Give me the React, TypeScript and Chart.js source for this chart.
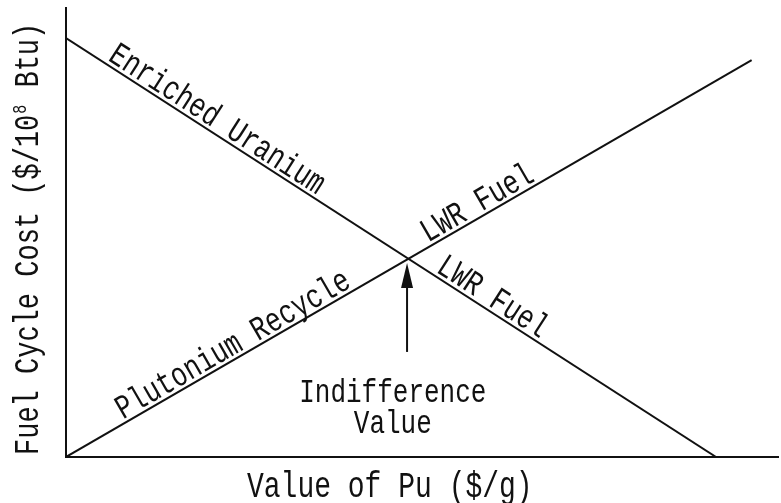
import React, { useEffect, useRef } from "react";
import { Chart, registerables } from "chart.js";
Chart.register(...registerables);

// ---- data ----
const xRange = [0, 100];
const yRange = [0, 100];
const enrichedX = [0, 91.3];
const enrichedY = [93.3, 0];
const plutoniumX = [0, 96.3];
const plutoniumY = [0, 88.4];
const lineLabels = ["Enriched Uranium", "LWR Fuel", "Plutonium Recycle", "LWR Fuel"];
const lineLabelSeries = [0, 0, 1, 1];
const lineLabelX = [20.2, 58.9, 24.4, 58.7];
const arrowX = 47.9;
const arrowY = [23.4, 43.2];
const noteLines = ["Indifference", "Value"];
const noteX = 45.9;
const noteY = [12.2, 5.3];
const xTitle = "Value of Pu ($/g)";
const yTitleParts = ["Fuel Cycle Cost ($/10", "8", " Btu)"];

const FONT = '"Liberation Mono", "Courier New", monospace';
const INK = "#111";
const STRETCH = 1.3;

function drawText(ctx: CanvasRenderingContext2D, text: string, x: number, y: number, angle: number, size: number, align: CanvasTextAlign) {
  ctx.save();
  ctx.translate(x, y);
  ctx.rotate(angle);
  ctx.scale(1, STRETCH);
  ctx.font = `${size}px ${FONT}`;
  ctx.textAlign = align;
  ctx.textBaseline = "alphabetic";
  ctx.fillStyle = INK;
  ctx.fillText(text, 0, 0);
  ctx.restore();
}

const annotPlugin = {
  id: "annot",
  afterDraw(chart: any) {
    const ctx: CanvasRenderingContext2D = chart.ctx;
    const xs = chart.scales.x;
    const ys = chart.scales.y;
    const series = [
      { X: enrichedX, Y: enrichedY },
      { X: plutoniumX, Y: plutoniumY },
    ];
    // labels along the lines
    lineLabels.forEach((txt, i) => {
      const s = series[lineLabelSeries[i]];
      const p0 = { x: xs.getPixelForValue(s.X[0]), y: ys.getPixelForValue(s.Y[0]) };
      const p1 = { x: xs.getPixelForValue(s.X[1]), y: ys.getPixelForValue(s.Y[1]) };
      const ang = Math.atan2(p1.y - p0.y, p1.x - p0.x);
      const t = (lineLabelX[i] - s.X[0]) / (s.X[1] - s.X[0]);
      const dy = s.Y[0] + t * (s.Y[1] - s.Y[0]);
      const px = xs.getPixelForValue(lineLabelX[i]);
      const py = ys.getPixelForValue(dy);
      const off = 4;
      drawText(ctx, txt, px + Math.sin(ang) * off, py - Math.cos(ang) * off, ang, 26, "center");
    });
    // arrow
    const ax = xs.getPixelForValue(arrowX);
    const ay0 = ys.getPixelForValue(arrowY[0]);
    const ay1 = ys.getPixelForValue(arrowY[1]);
    ctx.save();
    ctx.strokeStyle = INK;
    ctx.fillStyle = INK;
    ctx.lineWidth = 2;
    ctx.beginPath();
    ctx.moveTo(ax, ay0);
    ctx.lineTo(ax, ay1 + 20);
    ctx.stroke();
    ctx.beginPath();
    ctx.moveTo(ax, ay1);
    ctx.lineTo(ax - 6, ay1 + 25);
    ctx.lineTo(ax + 6, ay1 + 25);
    ctx.closePath();
    ctx.fill();
    ctx.restore();
    // note
    noteLines.forEach((txt, i) => {
      drawText(ctx, txt, xs.getPixelForValue(noteX), ys.getPixelForValue(noteY[i]), 0, 26, "center");
    });
    // x title
    drawText(ctx, xTitle, 247, 497, 0, 28, "left");
    // y title
    ctx.save();
    ctx.translate(38, 455);
    ctx.rotate(-Math.PI / 2);
    ctx.fillStyle = INK;
    ctx.textBaseline = "alphabetic";
    ctx.textAlign = "left";
    let cx = 0;
    ctx.save();
    ctx.scale(1, STRETCH);
    ctx.font = `27px ${FONT}`;
    ctx.fillText(yTitleParts[0], cx, 0);
    cx += ctx.measureText(yTitleParts[0]).width;
    ctx.restore();
    ctx.save();
    ctx.scale(1, STRETCH);
    ctx.font = `15px ${FONT}`;
    ctx.fillText(yTitleParts[1], cx + 1, -9);
    cx += ctx.measureText(yTitleParts[1]).width + 2;
    ctx.restore();
    ctx.save();
    ctx.scale(1, STRETCH);
    ctx.font = `27px ${FONT}`;
    ctx.fillText(yTitleParts[2], cx, 0);
    ctx.restore();
    ctx.restore();
  },
};

export default function App() {
  const ref = useRef<HTMLCanvasElement | null>(null);
  useEffect(() => {
    document.body.style.margin = "0";
    const canvas = ref.current!;
    const lineDs = (X: number[], Y: number[]) => ({
      data: X.map((x, i) => ({ x, y: Y[i] })),
      showLine: true,
      borderColor: INK,
      borderWidth: 2,
      pointRadius: 0,
      fill: false,
    });
    const chart = new Chart(canvas, {
      type: "scatter",
      data: {
        datasets: [lineDs(enrichedX, enrichedY), lineDs(plutoniumX, plutoniumY)],
      },
      options: {
        animation: false,
        responsive: false,
        devicePixelRatio: 1,
        layout: { padding: { left: 66, right: 3, top: 8, bottom: 46 } },
        plugins: { legend: { display: false }, tooltip: { enabled: false } },
        scales: {
          x: {
            type: "linear",
            min: xRange[0],
            max: xRange[1],
            grid: { display: false, drawTicks: false },
            ticks: { display: false },
            border: { display: true, color: INK, width: 2 },
          },
          y: {
            type: "linear",
            min: yRange[0],
            max: yRange[1],
            grid: { display: false, drawTicks: false },
            ticks: { display: false },
            border: { display: true, color: INK, width: 2 },
          },
        },
      },
      plugins: [annotPlugin],
    } as any);
    return () => chart.destroy();
  }, []);
  return (
    <div style={{ width: 781, height: 503, background: "#fff" }}>
      <canvas ref={ref} width={781} height={503} />
    </div>
  );
}
